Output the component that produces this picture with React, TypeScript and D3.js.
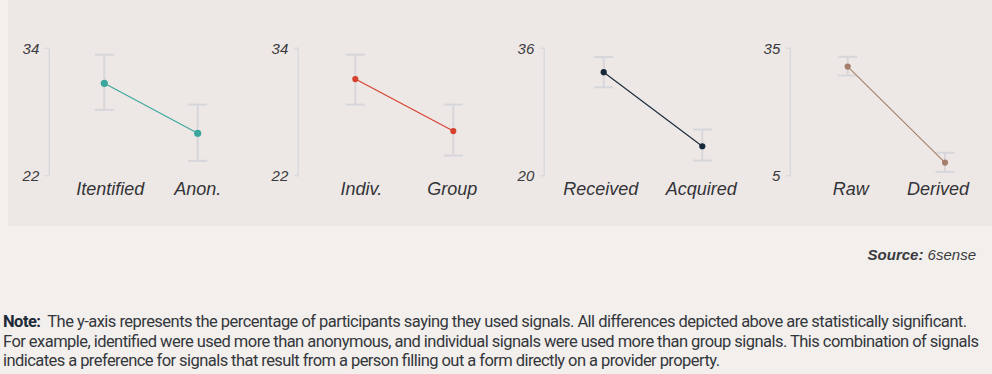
import React from "react";
import * as d3 from "d3";

// ---- data ----
const categories: string[][] = [
  ["Itentified", "Anon."],
  ["Indiv.", "Group"],
  ["Received", "Acquired"],
  ["Raw", "Derived"],
];
const means: number[][] = [
  [30.7, 26.0],
  [31.1, 26.2],
  [33.0, 23.7],
  [30.7, 8.1],
];
const lowers: number[][] = [
  [28.2, 23.4],
  [28.7, 23.9],
  [31.1, 21.9],
  [28.6, 5.9],
];
const uppers: number[][] = [
  [33.4, 28.7],
  [33.4, 28.7],
  [34.9, 25.8],
  [33.0, 10.4],
];
const yMins: number[] = [22, 22, 20, 5];
const yMaxs: number[] = [34, 34, 36, 35];
const seriesColors: string[] = ["#3ba69e", "#d6402e", "#17283a", "#a57f6b"];

const noteLines: string[] = [
  " The y-axis represents the percentage of participants saying they used signals. All differences depicted above are statistically significant.",
  "For example, identified were used more than anonymous, and individual signals were used more than group signals. This combination of signals",
  "indicates a preference for signals that result from a person filling out a form directly on a provider property.",
];

// ---- layout ----
const W = 992;
const H = 374;
const axisXs = [49.3, 298.3, 544.3, 790.3];
const pointOffsets = [
  [55, 148.4],
  [57, 155],
  [59.4, 158],
  [57.4, 154.7],
];
const labelShift = [
  [6, 0],
  [6, -1],
  [-3, -1],
  [3, -7],
];
const yTop = 48.3;
const yBottom = 175.7;
const noteLengths = [964, 976, 717];

export default function App() {
  return (
    <svg
      width={W}
      height={H}
      style={{ position: "absolute", left: 0, top: 0, display: "block" }}
      fontFamily="'Liberation Sans', Arial, sans-serif"
    >
      <rect x={0} y={0} width={W} height={H} fill="#f2efec" />
      <rect x={8} y={0} width={W - 8} height={226} fill="#ede8e5" />
      {categories.map((cats, i) => {
        const ax = axisXs[i];
        const y = d3.scaleLinear().domain([yMins[i], yMaxs[i]]).range([yBottom, yTop]);
        const x = d3
          .scalePoint<string>()
          .domain(cats)
          .range([ax + pointOffsets[i][0], ax + pointOffsets[i][1]]);
        const color = seriesColors[i];
        const line = d3
          .line<number>()
          .x((_, j) => x(cats[j]) as number)
          .y((d) => y(d));
        const ticks = [yMins[i], yMaxs[i]];
        return (
          <g key={i}>
            <path
              d={`M${ax - 4},${y(yMaxs[i])}H${ax}V${y(yMins[i])}H${ax - 4}`}
              fill="none"
              stroke="#d9d9de"
              strokeWidth={1.5}
            />
            {ticks.map((t) => (
              <text
                key={t}
                x={ax - 10}
                y={y(t)}
                dy="0.36em"
                textAnchor="end"
                fontSize={15}
                fontStyle="italic"
                fill="#3a3a3e"
              >
                {t}
              </text>
            ))}
            {cats.map((c, j) => {
              const cx = x(c) as number;
              return (
                <g key={c} stroke="#d6d6db" strokeWidth={2} fill="none">
                  <line x1={cx} x2={cx} y1={y(uppers[i][j])} y2={y(lowers[i][j])} />
                  <line x1={cx - 9.5} x2={cx + 9.5} y1={y(uppers[i][j])} y2={y(uppers[i][j])} />
                  <line x1={cx - 9.5} x2={cx + 9.5} y1={y(lowers[i][j])} y2={y(lowers[i][j])} />
                </g>
              );
            })}
            <path d={line(means[i]) as string} fill="none" stroke={color} strokeWidth={1.1} />
            {cats.map((c, j) => (
              <circle key={c} cx={x(c) as number} cy={y(means[i][j])} r={i === 0 ? 3.6 : 3.1} fill={color} />
            ))}
            {cats.map((c, j) => (
              <text
                key={c}
                x={(x(c) as number) + labelShift[i][j]}
                y={195}
                textAnchor="middle"
                fontSize={18}
                fontStyle="italic"
                fill="#333338"
              >
                {c}
              </text>
            ))}
          </g>
        );
      })}
      <text x={976} y={259.5} textAnchor="end" fontSize={15} fontStyle="italic" fill="#3a3a3e">
        <tspan fontWeight="bold">Source:</tspan>
        <tspan> 6sense</tspan>
      </text>
      {noteLines.map((l, i) => (
        <text
          key={i}
          x={3}
          y={327 + i * 19.5}
          fontSize={16.5}
          fontFamily="Roboto, 'Liberation Sans', sans-serif"
          fill="#34373c"
          textLength={noteLengths[i]}
          lengthAdjust="spacing"
        >
          {i === 0 ? (
            <>
              <tspan fontWeight="bold" fill="#1f2a38">Note:</tspan>
              <tspan>{"\u00a0" + l}</tspan>
            </>
          ) : (
            l
          )}
        </text>
      ))}
    </svg>
  );
}
